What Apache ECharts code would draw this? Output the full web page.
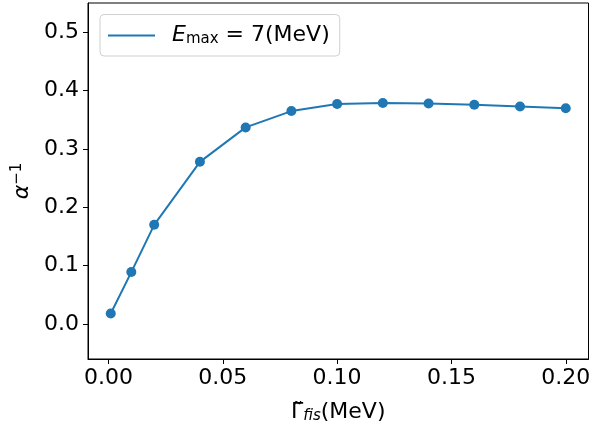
<!DOCTYPE html>
<html><head><meta charset="utf-8">
<script src="https://cdn.jsdelivr.net/npm/echarts@6/dist/echarts.min.js"></script>
<style>html,body{margin:0;padding:0;background:#fff}#c{width:598px;height:423px}</style>
</head><body><div id="c"></div>
<script>
const xValues = [0.001, 0.01, 0.02, 0.04, 0.06, 0.08, 0.10, 0.12, 0.14, 0.16, 0.18, 0.20];
const yValues = [0.018, 0.089, 0.170, 0.278, 0.337, 0.365, 0.377, 0.379, 0.378, 0.376, 0.373, 0.370];
const xTicks = [0, 0.05, 0.10, 0.15, 0.20];
const yTicks = [0.0, 0.1, 0.2, 0.3, 0.4, 0.5];
const seriesName = 'Emax';

const FONT = 'DejaVu Sans';
const chart = echarts.init(document.getElementById('c'));
chart.setOption({
  animation: false,
  grid: {left: 88, top: 3, right: 9.5, bottom: 64, show: true, borderColor: '#000', borderWidth: 1, backgroundColor: 'transparent', containLabel: false, outerBoundsMode: 'none'},
  legend: {
    left: 100, top: 14.5, orient: 'vertical',
    padding: [10, 10, 9, 8],
    backgroundColor: '#fff', borderColor: '#d0d0d0', borderWidth: 1, borderRadius: 4,
    itemWidth: 47, itemHeight: 2, icon: 'rect',
    data: [{name: seriesName, icon: 'rect'}],
    formatter: () => '{e|E}{s|max}{n| = 7(MeV)}',
    textStyle: {
      padding: [0, 0, 0, 12],
      rich: {
        e: {fontFamily: FONT, fontSize: 22, fontStyle: 'italic', color: '#000'},
        s: {fontFamily: FONT, fontSize: 15, color: '#000', verticalAlign: 'bottom', padding: [8, 0, 0, 0]},
        n: {fontFamily: FONT, fontSize: 22, color: '#000'}
      }
    }
  },
  xAxis: {
    type: 'value', min: -0.00895, max: 0.20995,
    splitLine: {show: false},
    axisLine: {show: true, onZero: false, lineStyle: {color: '#000', width: 1}},
    axisTick: {show: true, inside: false, length: 5, lineStyle: {color: '#000'}, customValues: xTicks},
    axisLabel: {customValues: xTicks, margin: 8, fontFamily: FONT, fontSize: 22, color: '#000', formatter: v => v.toFixed(2)},
    name: '{g|Γ̃}{f|fis}{n|(MeV)}', nameLocation: 'middle', nameGap: 42,
    nameTextStyle: {rich: {
      g: {fontFamily: FONT, fontSize: 22, color: '#000'},
      f: {fontFamily: FONT, fontSize: 15, fontStyle: 'italic', color: '#000', verticalAlign: 'bottom', padding: [8, 0, 0, 0]},
      n: {fontFamily: FONT, fontSize: 22, color: '#000'}
    }}
  },
  yAxis: {
    type: 'value', min: -0.06, max: 0.5503,
    splitLine: {show: false},
    axisLine: {show: true, onZero: false, lineStyle: {color: '#000', width: 1}},
    axisTick: {show: true, inside: false, length: 5, lineStyle: {color: '#000'}, customValues: yTicks},
    axisLabel: {customValues: yTicks, margin: 9, fontFamily: FONT, fontSize: 22, color: '#000', formatter: v => v.toFixed(1)},
    name: '{a|α}{p|−1}', nameLocation: 'middle', nameGap: 47, nameRotate: 90,
    nameTextStyle: {rich: {
      a: {fontFamily: FONT, fontSize: 22, fontStyle: 'italic', color: '#000'},
      p: {fontFamily: FONT, fontSize: 15, color: '#000', verticalAlign: 'top', padding: [0, 0, 10, 0]}
    }}
  },
  series: [{
    name: seriesName, type: 'line',
    data: xValues.map((x, i) => [x, yValues[i]]),
    symbol: 'circle', symbolSize: 10,
    lineStyle: {color: '#1f77b4', width: 2},
    itemStyle: {color: '#1f77b4'}
  }]
});
</script></body></html>
